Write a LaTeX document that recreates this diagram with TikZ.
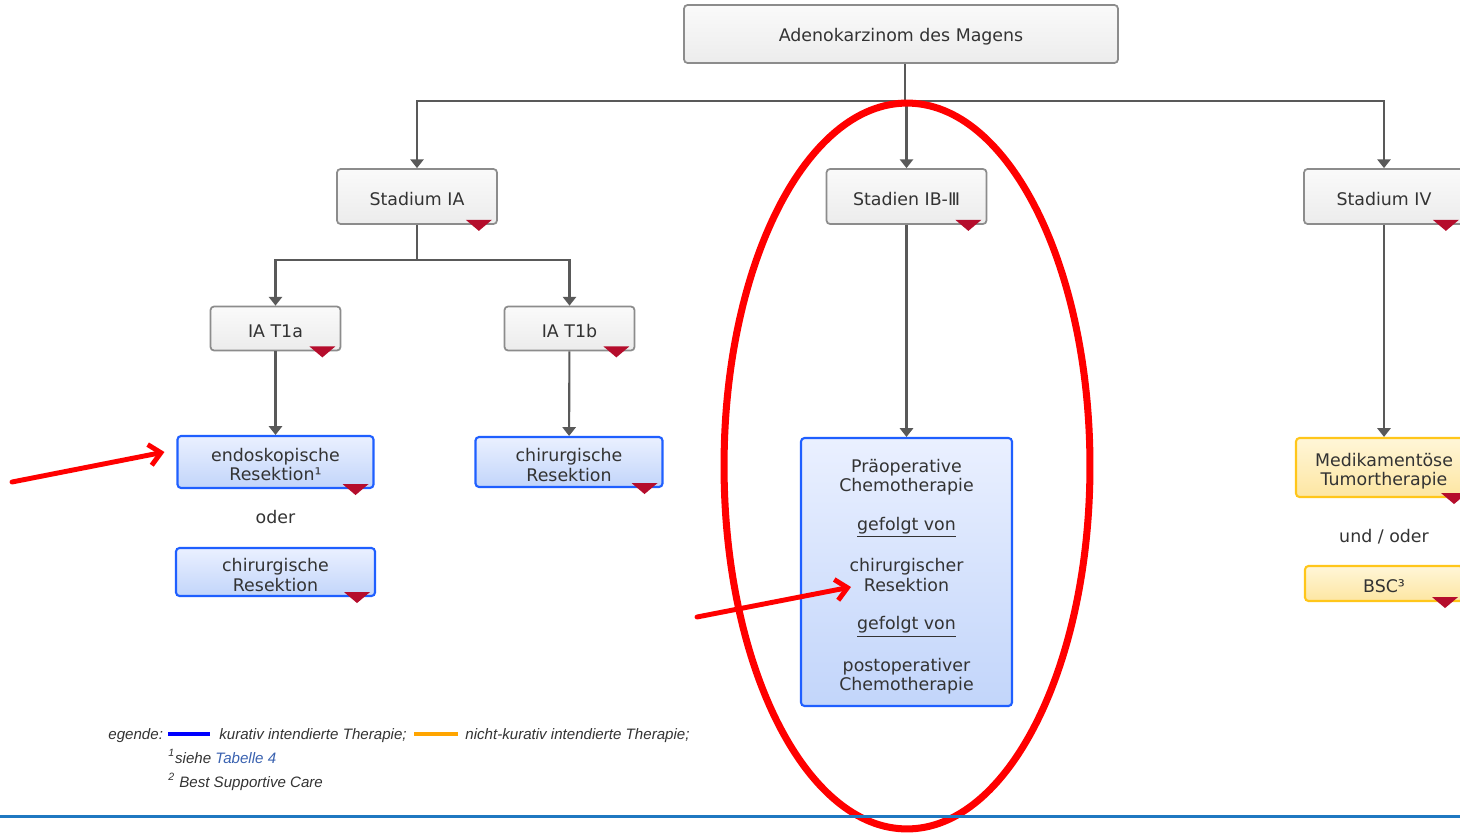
\documentclass[tikz,border=0pt]{standalone}
\usepackage{fontspec}
\setmainfont{DejaVu Sans}
\newfontfamily\legendfont{Liberation Sans}
\usetikzlibrary{arrows.meta,calc}

\definecolor{boxgray}{HTML}{8C8C8C}
\definecolor{txtgray}{HTML}{333333}
\definecolor{linegray}{HTML}{595959}
\definecolor{gratop}{HTML}{FAFAFA}
\definecolor{grabot}{HTML}{ECECEC}
\definecolor{kurblue}{HTML}{1F5FFF}
\definecolor{curtop}{HTML}{EAF0FF}
\definecolor{curbot}{HTML}{C2D5FA}
\definecolor{palyellow}{HTML}{FFC61A}
\definecolor{paltop}{HTML}{FFF6D8}
\definecolor{palbot}{HTML}{FDE6A2}
\definecolor{flagred}{HTML}{B50D2C}
\definecolor{rulerblue}{HTML}{1F78C1}
\definecolor{linkblue}{HTML}{3A62B0}
\definecolor{swatchorange}{HTML}{FFA500}

\newcommand\boxlift[1]{\rule{0pt}{#1}}

\begin{document}
\begin{tikzpicture}[
    x=0.02cm, y=-0.02cm,
    stage/.style={
        rectangle,
        rounded corners=2pt,
        draw=boxgray,
        line width=1pt,
        top color=gratop,
        bottom color=grabot,
        text=txtgray,
        font=\fontsize{9.9}{11}\selectfont,
        execute at begin node={\boxlift{10.6pt}},
        align=center,
        inner sep=0pt
    },
    curative/.style={
        stage,
        draw=kurblue,
        line width=1.2pt,
        top color=curtop,
        bottom color=curbot
    },
    palliative/.style={
        stage,
        draw=palyellow,
        line width=1.2pt,
        top color=paltop,
        bottom color=palbot
    },
    joiner/.style={
        text=txtgray,
        font=\fontsize{9.9}{11}\selectfont
    },
    flow/.style={
        draw=linegray,
        line width=1.2pt,
        -{Triangle[width=7.5pt,length=5pt]}
    },
    hint/.style={
        draw=red,
        line width=2.8pt,
        line cap=round,
        -{Straight Barb[length=6.5pt,width=12pt]}
    },
    legend/.style={
        font=\legendfont\itshape\fontsize{8.6}{10}\selectfont,
        text=txtgray,
        anchor=base west,
        inner sep=0pt
    }
]
\useasboundingbox (0,0) rectangle (1460,832);
\clip (0,0) rectangle (1460,832);

\node[stage, minimum width=8.68cm, minimum height=1.16cm] (magen) at (901,34) {Adenokarzinom des Magens};
\node[stage, minimum width=3.2cm, minimum height=1.1cm] (ia) at (417,196.5) {Stadium IA};
\node[stage, minimum width=3.2cm, minimum height=1.1cm] (ibiii) at (906.5,196.5) {Stadien IB-Ⅲ};
\node[stage, minimum width=3.2cm, minimum height=1.1cm] (iv) at (1384,196.5) {Stadium IV};
\node[stage, minimum width=2.6cm, minimum height=0.88cm] (t1a) at (275.5,328.5) {IA T1a};
\node[stage, minimum width=2.6cm, minimum height=0.88cm] (t1b) at (569.5,328.5) {IA T1b};

\node[curative, minimum width=3.92cm, minimum height=1.04cm] (endo) at (275.5,462) {\boxlift{10.6pt}endoskopische\\Resektion¹};
\node[joiner] (oder) at (275.5,517) {oder};
\node[curative, minimum width=3.98cm, minimum height=0.96cm] (chira) at (275.5,572) {\boxlift{11pt}chirurgische\\Resektion};
\node[curative, minimum width=3.74cm, minimum height=1cm] (chirb) at (569,462) {\boxlift{11pt}chirurgische\\Resektion};
\node[curative, minimum width=4.22cm, minimum height=5.36cm] (multi) at (906.5,572)
    {\boxlift{13pt}Präoperative\\Chemotherapie\\[11pt]\underline{gefolgt von}\\[11pt]chirurgischer\\Resektion\\[11pt]\underline{gefolgt von}\\[11pt]postoperativer\\Chemotherapie};
\node[palliative, minimum width=3.52cm, minimum height=1.18cm] (medi) at (1384,467.5) {\boxlift{11.5pt}Medikamentöse\\Tumortherapie};
\node[joiner] (undoder) at (1384,537) {und / oder};
\node[palliative, minimum width=3.16cm, minimum height=0.7cm] (bsc) at (1384,583.5) {BSC³};

\coordinate (split) at (905,101);
\coordinate (splitia) at (417,260);
\draw[linegray, line width=1.2pt] (magen.south -| split) -- (split);
\draw[flow] (split) -| (ia);
\draw[flow] (split) -| (iv);
\draw[flow] (ibiii.north |- split) -- (ibiii);
\draw[linegray, line width=1.2pt] (ia) -- (splitia);
\draw[flow] (splitia) -| (t1a);
\draw[flow] (splitia) -| (t1b);
\draw[flow] (t1a) -- (endo);
\draw[flow] (t1b) -- (chirb);
\draw[flow] (ibiii) -- (multi);
\draw[flow] (iv) -- (medi);

\foreach \n in {ia,ibiii,iv,t1a,t1b,endo,chira,chirb,medi,bsc}
    \fill[flagred] ($(\n.south east)+(-32,-5)$) -- ++(26,0) -- ++(-13,11) -- cycle;

\draw[red, line width=4pt] (907,466) ellipse [x radius=3.66cm, y radius=7.26cm];

\coordinate (hinta) at (12,482);
\coordinate (hintb) at (697,617);
\coordinate (hintbend) at (851,587);
\draw[hint] (hinta) -- ($(endo.west)+(-12,-10)$);
\draw[hint] (hintb) -- (hintbend);

\node[legend] (leg) at (108,739) {egende:};
\draw[blue, line width=2.8pt] (168,734) -- (210,734);
\node[legend] (kur) at (219,739) {kurativ intendierte Therapie;};
\draw[swatchorange, line width=2.8pt] (414,734) -- (458,734);
\node[legend] (nkur) at (465,739) {nicht-kurativ intendierte Therapie;};
\node[legend] (fn1) at (168,763) {\textsuperscript{1}siehe \textcolor{linkblue}{Tabelle 4}};
\node[legend] (fn2) at (168,787) {\textsuperscript{2} Best Supportive Care};

\draw[rulerblue, line width=1.7pt] (0,816) -- (1460,816);

\end{tikzpicture}
\end{document}
